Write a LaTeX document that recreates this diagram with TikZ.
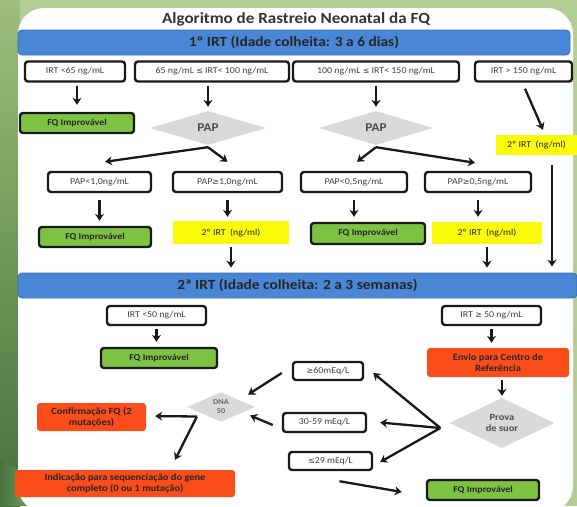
\documentclass[tikz,border=0pt]{standalone}
\usepackage{fontspec}
\setmainfont{Carlito}
\newfontfamily\cf[FakeStretch=1.1]{Carlito}
\newfontfamily\dvs{DejaVu Sans}
\usetikzlibrary{shapes.geometric,arrows.meta}
\definecolor{bgg}{HTML}{B3CE95}
\definecolor{leftg1}{HTML}{9DBE7C}
\definecolor{leftg2}{HTML}{44713A}
\definecolor{fqblue}{HTML}{4A86D6}
\definecolor{fqgreen}{HTML}{7DC242}
\definecolor{fqyellow}{HTML}{FAFA0A}
\definecolor{fqorange}{HTML}{FA4D1A}
\definecolor{fqgray}{HTML}{D9D9D9}
\newcommand{\sge}{{\dvs\fontsize{8}{9}\selectfont ≥}}
\newcommand{\sle}{{\dvs\fontsize{8}{9}\selectfont ≤}}
\begin{document}
\begin{tikzpicture}[x=1pt,y=-1pt,
  wbox/.style={draw=black!90, line width=2.4pt, rounded corners=3pt, fill=white, inner sep=0pt, font=\cf\fontsize{9}{10}\selectfont, text=black!75},
  gbox/.style={wbox, fill=fqgreen, font=\cf\bfseries\fontsize{9}{10}\selectfont, text=black!85},
  ybox/.style={fill=fqyellow, inner sep=0pt, font=\cf\fontsize{9}{10}\selectfont, text=black!85},
  obox/.style={fill=fqorange, rounded corners=3pt, inner sep=0pt, align=center, font=\cf\bfseries\fontsize{9.5}{11}\selectfont, text=black!85},
  dia/.style={diamond, fill=fqgray, inner sep=0pt, align=center, font=\cf\bfseries\fontsize{12}{13}\selectfont, text=black!70},
  bar/.style={fill=fqblue, draw=fqblue!80!black, line width=0.8pt, rounded corners=4pt, font=\cf\bfseries\fontsize{14}{16}\selectfont, text=black!85},
  arr/.style={-{Stealth[length=7pt,width=9pt]}, line width=2.3pt, draw=black!90},
]
\useasboundingbox (0,0) rectangle (577,506);
% background
\fill[bgg] (0,0) rectangle (577,506);
\shade[top color=leftg1, bottom color=leftg2] (0,0) rectangle (20,506);
\shade[left color=leftg2, right color=leftg1] (0,460) -- (20,470) -- (50,506) -- (0,506) -- cycle;
\fill[white, rounded corners=26pt] (18,8) rectangle (573,512);

% title and first bar
\node[font=\cf\bfseries\fontsize{15.5}{17}\selectfont, text=black!80] (title) at (296,19) {Algoritmo de Rastreio Neonatal da FQ};
\node[bar, minimum width=552pt, minimum height=25pt] (bar1) at (294,42.5) {1º IRT (Idade colheita: 3 a 6 dias)};

% row 1
\node[wbox, minimum width=100pt, minimum height=20pt] (r1a) at (75,71.5) {IRT <65 ng/mL};
\node[wbox, minimum width=154pt, minimum height=20pt] (r1b) at (212,71.5) {65 ng/mL \sle{} IRT< 100 ng/mL};
\node[wbox, minimum width=166pt, minimum height=20pt] (r1c) at (376,71.5) {100 ng/mL \sle{} IRT< 150 ng/mL};
\node[wbox, minimum width=97pt, minimum height=20pt] (r1d) at (523.5,71.5) {IRT > 150 ng/mL};

\node[gbox, minimum width=114pt, minimum height=20pt] (g1) at (77,123) {FQ Improvável};
\node[dia, minimum width=116pt, minimum height=34pt] (pap1) at (208,128) {PAP};
\node[dia, minimum width=114pt, minimum height=34pt] (pap2) at (376,128) {PAP};
\node[ybox, minimum width=81pt, minimum height=20pt] (y1) at (536.5,145) {2º IRT\ \ (ng/ml)};

% row 2
\node[wbox, minimum width=103pt, minimum height=20pt] (p1) at (99.5,182) {PAP<1,0ng/mL};
\node[wbox, minimum width=109pt, minimum height=20pt] (p2) at (227.5,182) {PAP\sge1,0ng/mL};
\node[wbox, minimum width=106pt, minimum height=20pt] (p3) at (354,182) {PAP<0,5ng/mL};
\node[wbox, minimum width=106pt, minimum height=20pt] (p4) at (478,182) {PAP\sge0,5ng/mL};

% row 3
\node[gbox, minimum width=112pt, minimum height=20pt] (g2) at (95,237) {FQ Improvável};
\node[ybox, minimum width=116pt, minimum height=23pt] (y2) at (231,232.5) {2º IRT\ \ (ng/ml)};
\node[gbox, minimum width=114pt, minimum height=21pt] (g3) at (368,233.5) {FQ Improvável};
\node[ybox, minimum width=110pt, minimum height=22pt] (y4) at (487,233) {2º IRT\ \ (ng/ml)};

% second bar
\node[bar, minimum width=559pt, minimum height=25pt] (bar2) at (297.5,285.5) {2ª IRT (Idade colheita: 2 a 3 semanas)};

% second section
\node[wbox, minimum width=99pt, minimum height=19pt] (i1) at (156.5,315.5) {IRT <50 ng/mL};
\node[wbox, minimum width=99pt, minimum height=19pt] (i2) at (491.5,315.5) {IRT \sge{} 50 ng/mL};
\node[gbox, minimum width=116pt, minimum height=20pt] (g4) at (159,358) {FQ Improvável};
\node[obox, minimum width=142pt, minimum height=29pt] (env) at (498,362.5) {Envio para Centro de\\Referência};
\node[dia, minimum width=105pt, minimum height=50pt, font=\cf\bfseries\fontsize{9.5}{11}\selectfont] (suor) at (502,423) {Prova\\de suor};
\node[wbox, minimum width=70pt, minimum height=18pt] (m1) at (328,371) {\sge60mEq/L};
\node[wbox, minimum width=83pt, minimum height=19pt] (m2) at (324.5,422.5) {30-59 mEq/L};
\node[wbox, minimum width=83pt, minimum height=18pt] (m3) at (330.5,461) {\sle29 mEq/L};
\node[dia, minimum width=68pt, minimum height=29pt, font=\cf\bfseries\fontsize{7.5}{9}\selectfont, text=black!60] (dna) at (221,407) {DNA\\50};
\node[obox, minimum width=109pt, minimum height=28pt] (conf) at (91.5,417) {Confirmação FQ (2\\mutações)};
\node[obox, minimum width=220pt, minimum height=27pt] (ind) at (125,483.5) {Indicação para sequenciação do gene\\completo (0 ou 1 mutação)};
\node[gbox, minimum width=112pt, minimum height=20pt] (g5) at (483,490) {FQ Improvável};

% arrows, first section
\draw[arr, shorten <=3pt, shorten >=7pt] (g1.north |- r1a.south) -- (g1.north);
\draw[arr, shorten <=3pt, shorten >=4pt] (pap1.north |- r1b.south) -- (pap1.north);
\draw[arr, shorten <=3pt, shorten >=4pt] (pap2.north |- r1c.south) -- (pap2.north);
\draw[arr] ([xshift=1.5pt,yshift=-6pt]r1d.south) -- ([xshift=6.5pt,yshift=5pt]y1.north);

\draw[arr] ([yshift=-2pt]pap1.south) -- ([xshift=5.5pt,yshift=9pt]p1.north);
\draw[arr] ([yshift=-2pt]pap1.south) -- ([yshift=9pt]p2.north);
\draw[arr] ([yshift=-2pt]pap2.south) -- ([xshift=3pt,yshift=9pt]p3.north);
\draw[arr] ([yshift=-2pt]pap2.south) -- ([xshift=-3pt,yshift=8pt]p4.north);

\draw[arr, shorten <=7pt, shorten >=5pt] (p1.south) -- (p1.south |- g2.north);
\draw[arr, shorten <=7pt, shorten >=4pt] (p2.south) -- (p2.south |- y2.north);
\draw[arr, shorten <=7pt, shorten >=5pt] (p3.south) -- (p3.south |- g3.north);
\draw[arr, shorten <=7pt, shorten >=5pt] (p4.south) -- (p4.south |- y4.north);

\draw[arr, shorten <=3pt, shorten >=5pt] (y2.south) -- (y2.south |- bar2.north);
\draw[arr, shorten <=3pt, shorten >=5pt] (y4.south) -- (y4.south |- bar2.north);
\draw[arr, shorten <=10pt, shorten >=6pt] ([xshift=15.5pt]y1.south) -- ([xshift=15.5pt]y1.south |- bar2.north);

% arrows, second section
\draw[arr, shorten <=3pt, shorten >=5pt] (i1.south) -- (i1.south |- g4.north);
\draw[arr, shorten <=3pt, shorten >=5pt] (i2.south) -- (i2.south |- env.north);
\draw[arr, shorten <=3pt, shorten >=2pt] (suor.north |- env.south) -- (suor.north);

\draw[arr] ([xshift=-9pt,yshift=-5pt]suor.west) -- ([xshift=9pt,yshift=-2pt]m1.east);
\draw[arr] ([xshift=-9pt,yshift=-5pt]suor.west) -- ([xshift=13pt]m2.east);
\draw[arr] ([xshift=-9pt,yshift=-5pt]suor.west) -- ([xshift=7pt,yshift=-1pt]m3.east);

\draw[arr] ([xshift=-10pt,yshift=-2pt]m1.west) -- ([xshift=10pt,yshift=5pt]dna.north east);
\draw[arr] ([xshift=-9pt,yshift=-2.5pt]m2.west) -- ([xshift=12pt,yshift=-1pt]dna.south east);

\draw[arr, shorten >=9pt] ([xshift=-7pt,yshift=-2pt]dna.south west) -- ([yshift=1pt]conf.east);
\draw[arr] ([xshift=-7pt,yshift=-2pt]dna.south west) -- ([xshift=50pt,yshift=10pt]ind.north);

\draw[arr] ([xshift=9pt,yshift=-10pt]m3.south) -- ([xshift=-24pt,yshift=-2pt]g5.west);
\end{tikzpicture}
\end{document}
